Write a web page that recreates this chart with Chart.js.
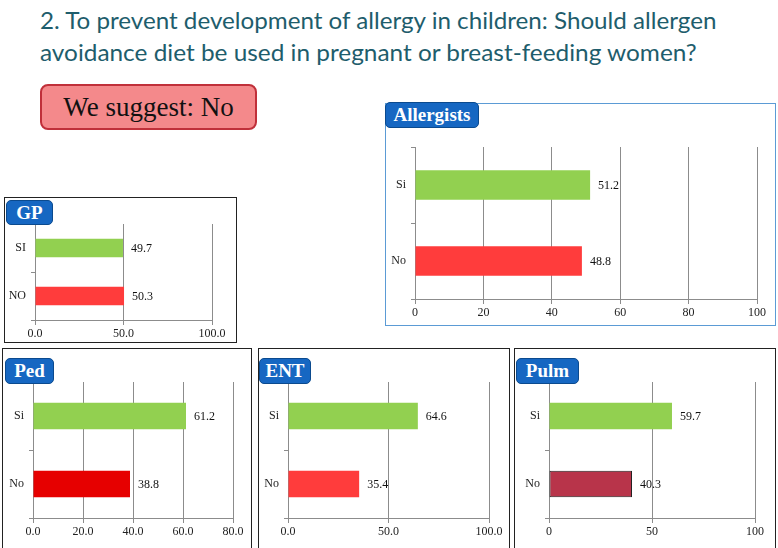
<!DOCTYPE html>
<html>
<head>
<meta charset="utf-8">
<script src="https://cdn.jsdelivr.net/npm/chart.js@4"></script>
<style>
  body { margin: 0; background: #fff; width: 778px; height: 548px; position: relative; overflow: hidden; }
  .abs { position: absolute; }
  .title { left: 40px; color: #1e5d6c; font-family: Lato, "Open Sans", sans-serif; font-size: 24px; line-height: 32px; white-space: nowrap; }
  .title span { display: inline-block; transform-origin: 0 50%; }
  .suggest { left: 40px; top: 84px; width: 217px; height: 46px; box-sizing: border-box; background: #f4898b; border: 2px solid #c0303a; border-radius: 8px;
             font-family: "Liberation Serif", serif; font-size: 27px; line-height: 42px; text-align: center; color: #111; }
  .panel { box-sizing: border-box; }
  .badge { box-sizing: border-box; background: #1667c2; border: 1px solid #0b4a8e; border-radius: 5px; color: #fff;
           font-family: "Liberation Serif", serif; font-weight: bold; font-size: 19px; line-height: 24px; text-align: center; }
</style>
</head>
<body>
<div class="abs title" style="top:4px"><span id="t1">2. To prevent development of allergy in children: Should allergen</span></div>
<div class="abs title" style="top:36px"><span id="t2">avoidance diet be used in pregnant or breast-feeding women?</span></div>
<div class="abs suggest">We suggest: No</div>

<div class="abs panel" style="left:385px;top:103px;width:391px;height:223px;border:1px solid #5b9bd5"></div>
<div class="abs panel" style="left:4px;top:197px;width:233px;height:146px;border:1px solid #222"></div>
<div class="abs panel" style="left:2px;top:348px;width:250px;height:204px;border:1px solid #222"></div>
<div class="abs panel" style="left:258px;top:348px;width:252px;height:204px;border:1px solid #222"></div>
<div class="abs panel" style="left:514px;top:348px;width:262px;height:204px;border:1px solid #222"></div>

<canvas id="cAll" class="abs" width="391" height="224" style="left:385px;top:102px"></canvas>
<canvas id="cGP" class="abs" width="232" height="146" style="left:5px;top:197px"></canvas>
<canvas id="cPed" class="abs" width="250" height="197" style="left:2px;top:348px"></canvas>
<canvas id="cEnt" class="abs" width="252" height="197" style="left:258px;top:348px"></canvas>
<canvas id="cPulm" class="abs" width="262" height="197" style="left:514px;top:348px"></canvas>

<div class="abs badge" style="left:385px;top:102px;width:94px;height:26px">Allergists</div>
<div class="abs badge" style="left:6px;top:200px;width:47px;height:25px">GP</div>
<div class="abs badge" style="left:5px;top:358px;width:49px;height:26px">Ped</div>
<div class="abs badge" style="left:259px;top:358px;width:52px;height:26px">ENT</div>
<div class="abs badge" style="left:516px;top:358px;width:63px;height:26px">Pulm</div>

<script>
// data
const gpCategories = ['SI', 'NO'];
const gpValues = [49.7, 50.3];
const gpTicks = [0, 50, 100];

const allergistCategories = ['Si', 'No'];
const allergistValues = [51.2, 48.8];
const allergistTicks = [0, 20, 40, 60, 80, 100];

const pedCategories = ['Si', 'No'];
const pedValues = [61.2, 38.8];
const pedTicks = [0, 20, 40, 60, 80];

const entCategories = ['Si', 'No'];
const entValues = [64.6, 35.4];
const entTicks = [0, 50, 100];

const pulmCategories = ['Si', 'No'];
const pulmValues = [59.7, 40.3];
const pulmTicks = [0, 50, 100];

const GREEN = '#92d050';
const RED = '#ff3c3c';
const GRID = '#8c8c8c';
const SERIF = '"Liberation Serif", serif';

// fit title lines to the slide width
function fit(id, w) {
  const el = document.getElementById(id);
  el.style.transform = 'scaleX(' + (w / el.offsetWidth) + ')';
}
fit('t1', 676);
fit('t2', 657);

// numbers next to the bars
const valueLabels = {
  id: 'valueLabels',
  afterDatasetsDraw(chart) {
    const ctx = chart.ctx;
    const meta = chart.getDatasetMeta(0);
    ctx.save();
    ctx.font = '12px ' + SERIF;
    ctx.fillStyle = '#111';
    ctx.textBaseline = 'middle';
    meta.data.forEach((bar, i) => {
      ctx.fillText(chart.data.datasets[0].data[i].toFixed(1), bar.x + 8, bar.y + 1);
    });
    ctx.restore();
  }
};

function makeChart(id, cats, vals, ticks, decimals, fills, borders, pad, xH) {
  return new Chart(document.getElementById(id), {
    type: 'bar',
    data: {
      labels: cats,
      datasets: [{
        data: vals,
        backgroundColor: fills,
        borderColor: borders,
        borderWidth: borders.map(b => b === 'transparent' ? 0 : 1),
        borderSkipped: false,
        categoryPercentage: 1,
        barPercentage: 0.39
      }]
    },
    options: {
      indexAxis: 'y',
      responsive: false,
      animation: false,
      devicePixelRatio: 1,
      layout: { padding: pad },
      plugins: { legend: { display: false }, tooltip: { enabled: false } },
      scales: {
        x: {
          min: 0,
          max: ticks[ticks.length - 1],
          afterBuildTicks: s => { s.ticks = ticks.map(v => ({ value: v })); },
          afterFit: s => { s.height = xH; },
          ticks: { callback: v => Number(v).toFixed(decimals), font: { family: SERIF, size: 12 }, color: '#222', padding: 2, maxRotation: 0 },
          grid: { color: GRID, tickLength: 5 },
          border: { color: GRID }
        },
        y: {
          offset: true,
          afterFit: s => { s.width = 30; },
          ticks: { font: { family: SERIF, size: 12 }, color: '#222', padding: 5 },
          grid: { drawOnChartArea: false, offset: true, tickLength: 4, color: GRID },
          border: { color: GRID }
        }
      }
    },
    plugins: [valueLabels]
  });
}

makeChart('cGP', gpCategories, gpValues, gpTicks, 1, [GREEN, RED], ['transparent', 'transparent'],
  { left: 0, right: 25, top: 27, bottom: 5 }, 18);
makeChart('cAll', allergistCategories, allergistValues, allergistTicks, 0, [GREEN, RED], ['transparent', 'transparent'],
  { left: 0, right: 19, top: 45, bottom: 7 }, 20);
makeChart('cPed', pedCategories, pedValues, pedTicks, 1, [GREEN, '#e60000'], ['transparent', 'transparent'],
  { left: 1, right: 19, top: 34, bottom: 7 }, 20);
makeChart('cEnt', entCategories, entValues, entTicks, 1, [GREEN, RED], ['transparent', 'transparent'],
  { left: 0, right: 21, top: 34, bottom: 7 }, 20);
makeChart('cPulm', pulmCategories, pulmValues, pulmTicks, 0, [GREEN, '#b8344a'], ['transparent', '#222'],
  { left: 5, right: 21, top: 34, bottom: 7 }, 20);
</script>
</body>
</html>
